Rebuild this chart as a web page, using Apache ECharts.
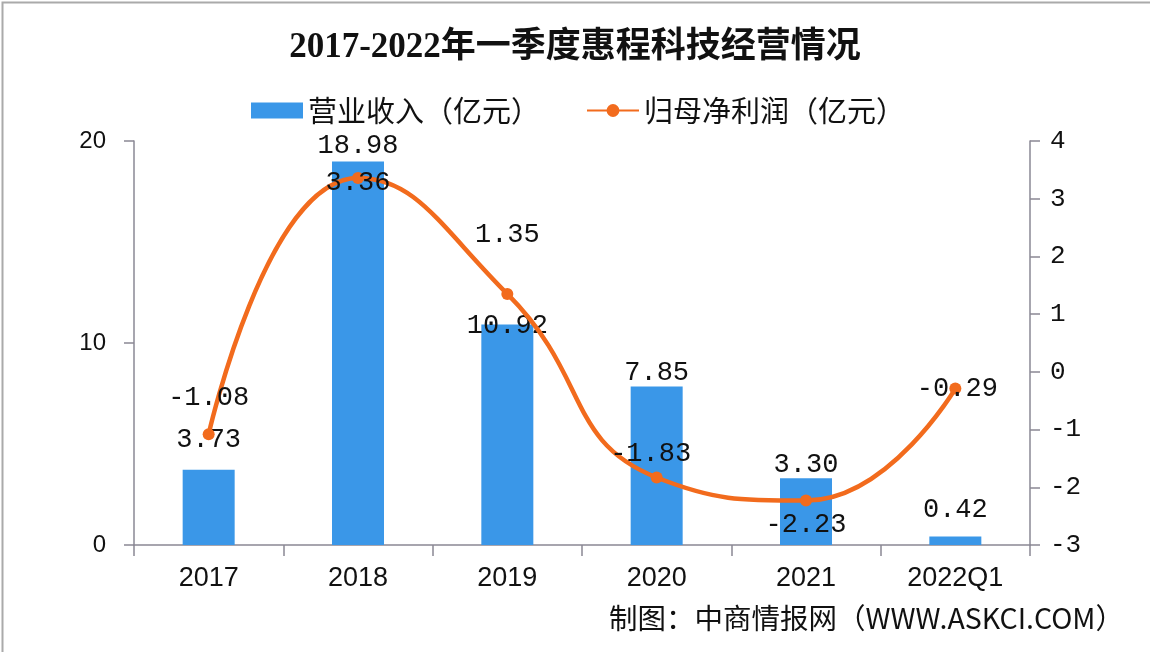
<!DOCTYPE html>
<html>
<head>
<meta charset="utf-8">
<script src="https://cdn.jsdelivr.net/npm/echarts@6/dist/echarts.min.js"></script>
<style>
    html, body { margin: 0; padding: 0; background: #fff; }
    #chart { width: 1150px; height: 652px; }
</style>
</head>
<body>
<div id="chart"></div>
<script>
    "use strict";
    // 数据
    var categories = ["2017", "2018", "2019", "2020", "2021", "2022Q1"];
    var revenue = [3.73, 18.98, 10.92, 7.85, 3.30, 0.42];   // 营业收入（亿元）
    var netProfit = [-1.08, 3.36, 1.35, -1.83, -2.23, -0.29]; // 归母净利润（亿元）
    var leftTicks = [0, 10, 20];
    var rightTicks = [-3, -2, -1, 0, 1, 2, 3, 4];

    var monoFont = "'Liberation Mono', 'DejaVu Sans Mono', monospace";
    var cjkFont = "'Noto Sans CJK SC', sans-serif";

    // 标签位置微调（仿原图的避让效果）
    var barLabelDist = [16, 2, -15, 0, 0, 13];
    var lineLabelPos = [
        { position: "top", distance: 17 },
        { position: "inside", offset: [0, 5] },
        { position: "top", distance: 40 },
        { position: "top", distance: 4, offset: [-6, 0] },
        { position: "bottom", distance: 5 },
        { position: "inside", offset: [2, 0] }
    ];

    var barData = revenue.map(function (v, i) {
        return { value: v, label: { distance: barLabelDist[i] } };
    });
    var lineData = netProfit.map(function (v, i) {
        return { value: v, label: lineLabelPos[i] };
    });

    var chart = echarts.init(document.getElementById("chart"));
    var option = {
        backgroundColor: "#ffffff",
        animation: false,
        title: {
            text: "2017-2022年一季度惠程科技经营情况",
            left: "center",
            top: 25,
            textStyle: {
                fontFamily: "'Liberation Serif', 'Noto Sans CJK SC', serif",
                fontSize: 35,
                fontWeight: "bold",
                color: "#111"
            }
        },
        legend: {
            top: 91,
            left: 246,
            itemGap: 46,
            itemWidth: 52,
            itemHeight: 16,
            textStyle: { fontFamily: cjkFont, fontSize: 29, color: "#111" },
            data: [
                { name: "营业收入（亿元）", icon: "rect" },
                { name: "归母净利润（亿元）" }
            ]
        },
        grid: { left: 134, right: 120, top: 141, bottom: 107 },
        xAxis: {
            type: "category",
            data: categories,
            axisLine: { lineStyle: { color: "#8a8894", width: 1.5 } },
            axisTick: { show: true, length: 11, lineStyle: { color: "#8a8894", width: 1.5 } },
            axisLabel: {
                margin: 20,
                fontFamily: "'Liberation Sans Narrow', 'Liberation Sans', sans-serif",
                fontSize: 27,
                color: "#111"
            }
        },
        yAxis: [
            {
                type: "value",
                min: leftTicks[0],
                max: leftTicks[leftTicks.length - 1],
                interval: 10,
                splitLine: { show: false },
                axisLine: { show: true, lineStyle: { color: "#8a8894", width: 1.5 } },
                axisTick: { show: true, length: 10, lineStyle: { color: "#8a8894", width: 1.5 } },
                axisLabel: { margin: 28, fontFamily: "'Liberation Sans', sans-serif", fontSize: 24, color: "#111" }
            },
            {
                type: "value",
                min: rightTicks[0],
                max: rightTicks[rightTicks.length - 1],
                interval: 1,
                splitLine: { show: false },
                axisLine: { show: true, lineStyle: { color: "#8a8894", width: 1.5 } },
                axisTick: { show: true, length: 10, lineStyle: { color: "#8a8894", width: 1.5 } },
                axisLabel: { margin: 20, fontFamily: monoFont, fontSize: 26, color: "#111" }
            }
        ],
        series: [
            {
                name: "营业收入（亿元）",
                type: "bar",
                yAxisIndex: 0,
                barWidth: 52,
                data: barData,
                itemStyle: { color: "#3a97e8" },
                label: {
                    show: true,
                    position: "top",
                    fontFamily: monoFont,
                    fontSize: 27,
                    color: "#111",
                    formatter: function (p) { return p.value.toFixed(2); }
                }
            },
            {
                name: "归母净利润（亿元）",
                type: "line",
                yAxisIndex: 1,
                smooth: 0.5,
                symbol: "circle",
                symbolSize: 12,
                data: lineData,
                lineStyle: { color: "#f26b1d", width: 4.5 },
                itemStyle: { color: "#f26b1d" },
                label: {
                    show: true,
                    fontFamily: monoFont,
                    fontSize: 27,
                    color: "#111",
                    formatter: function (p) { return p.value.toFixed(2); }
                },
                z: 3
            }
        ],
        graphic: [
            {
                type: "text",
                right: 26,
                top: 604,
                style: {
                    text: "制图：中商情报网（WWW.ASKCI.COM）",
                    fontFamily: cjkFont,
                    fontSize: 28.5,
                    fill: "#111"
                }
            },
            {
                type: "rect",
                left: 0,
                top: 0,
                shape: { width: 1149, height: 651 },
                style: { fill: "none", stroke: "#aaaaaa", lineWidth: 2 },
                silent: true
            }
        ]
    };
    chart.setOption(option);
</script>
</body>
</html>
